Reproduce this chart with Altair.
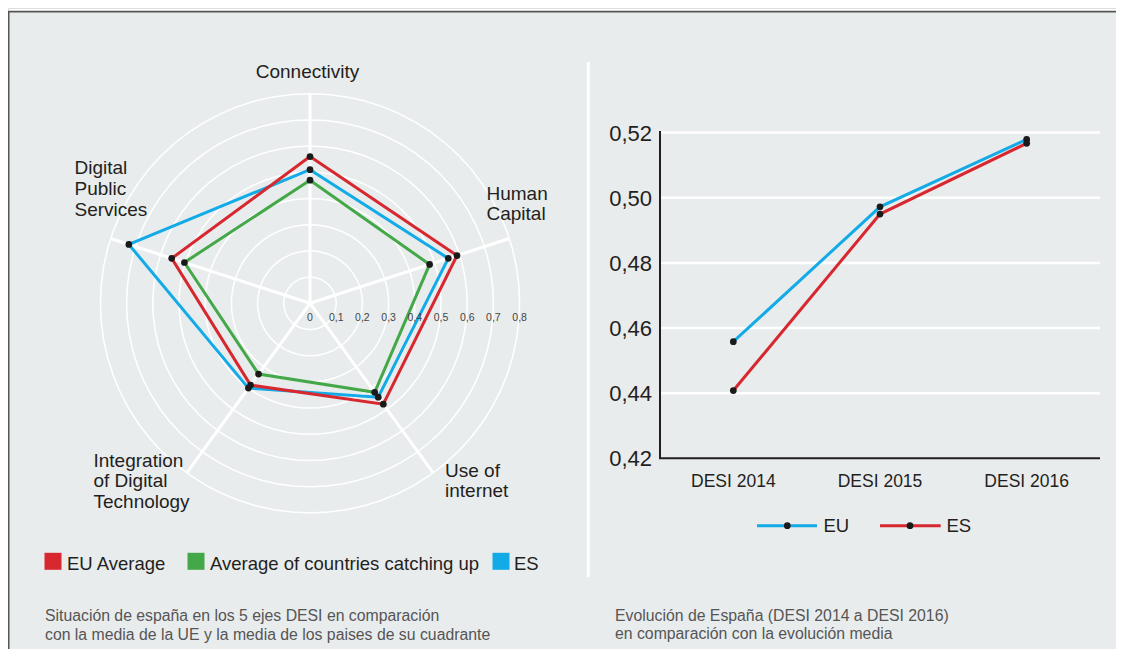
import altair as alt
import pandas as pd

# ---------------- data: radar (left) ----------------
axis_names = ["Connectivity", "Human Capital", "Use of internet",
              "Integration of Digital Technology", "Digital Public Services"]
axis_label_lines = [["Connectivity"], ["Human", "Capital"], ["Use of", "internet"],
                    ["Integration", "of Digital", "Technology"], ["Digital", "Public", "Services"]]
axis_angles = [0, 72, 144, 216, 288]
series_names = ["EU Average", "Average of countries catching up", "ES"]
eu_average = [0.56, 0.59, 0.476, 0.386, 0.555]
catching_up = [0.47, 0.48, 0.42, 0.334, 0.504]
es_radar = [0.51, 0.555, 0.443, 0.40, 0.727]
ring_levels = [0.1, 0.2, 0.3, 0.4, 0.5, 0.6, 0.7, 0.8]
ring_tick_values = [0, 0.1, 0.2, 0.3, 0.4, 0.5, 0.6, 0.7, 0.8]
ring_tick_labels = ["0", "0,1", "0,2", "0,3", "0,4", "0,5", "0,6", "0,7", "0,8"]
left_caption = ["Situación de españa en los 5 ejes DESI en comparación",
                "con la media de la UE y la media de los paises de su cuadrante"]

# ---------------- data: evolution (right) ----------------
years = ["DESI 2014", "DESI 2015", "DESI 2016"]
evo_series = ["EU", "ES"]
eu_evolution = [0.4558, 0.4972, 0.5179]
es_evolution = [0.4408, 0.4950, 0.5167]
y_ticks = [0.42, 0.44, 0.46, 0.48, 0.50, 0.52]
right_caption = ["Evolución de España (DESI 2014 a DESI 2016)",
                 "en comparación con la evolución media"]

# ---------------- styles ----------------
BG = "#E9ECED"
RED = "#D7282F"
GREEN = "#45A848"
BLUE = "#12ABE8"
TXT = "#231F20"
CAP = "#555555"
DOT = "#1A1A1A"
FONT = "Lato"

radar_colors = {"EU Average": RED, "Average of countries catching up": GREEN, "ES": BLUE}

# ---------------- geometry ----------------
W, H = 1108, 641
PX = 262.0             # pixels per radar unit
CX, CY = 302.0, 295.3  # radar centre
one = pd.DataFrame({"k": [0]})


def rs_x():
    return alt.Scale(domain=[-CX / PX, (W - CX) / PX], nice=False, zero=False)


def rs_y():
    return alt.Scale(domain=[-(H - CY) / PX, CY / PX], nice=False, zero=False)


def X(f):
    return alt.X(f"{f}:Q", scale=rs_x(), axis=None)


def Y(f):
    return alt.Y(f"{f}:Q", scale=rs_y(), axis=None)


# right-panel scales (plot region 652..1092 x 124.6..450.3)
def es_x():
    return alt.Scale(type="point", domain=years, padding=0.5, range=[652, 1092])


def es_y():
    return alt.Scale(domain=[min(y_ticks), max(y_ticks)], range=[450.3, 124.6], nice=False, zero=False)


def txt(t, x, y, size, color=TXT, align="left"):
    return alt.Chart(one).mark_text(text=t, align=align, baseline="alphabetic",
                                    fontSize=size, color=color).encode(
        x=alt.value(x), y=alt.value(y))


rows = []
for s, vals in zip(series_names, [eu_average, catching_up, es_radar]):
    for k in range(6):
        j = k % 5
        rows.append({"series": s, "axis": axis_names[j], "value": vals[j],
                     "angle": axis_angles[j], "order": k})
radar_df = pd.DataFrame(rows)

L = []
# background, border, separator
L.append(alt.Chart(one).mark_rect(color=BG).encode(
    x=alt.value(0), x2=alt.value(W), y=alt.value(3.7), y2=alt.value(H)))
L.append(alt.Chart(one).mark_rule(color="#555555", strokeWidth=1.8).encode(
    x=alt.value(0), x2=alt.value(W), y=alt.value(3.7)))
L.append(alt.Chart(one).mark_rule(color="#555555", strokeWidth=1.8).encode(
    x=alt.value(0.6), y=alt.value(3.7), y2=alt.value(H)))
L.append(alt.Chart(one).mark_rule(color="white", strokeWidth=3).encode(
    x=alt.value(580.3), y=alt.value(54), y2=alt.value(569)))

# radar rings and spokes
L.append(alt.Chart(pd.DataFrame({"level": ring_levels})).transform_calculate(
    a="sequence(0, 361, 5)").transform_flatten(["a"]).transform_calculate(
    rx="datum.level * sin(datum.a * PI / 180)",
    ry="datum.level * cos(datum.a * PI / 180)").mark_line(
    color="white", strokeWidth=1.5).encode(x=X("rx"), y=Y("ry"), detail="level:N", order="a:Q"))

outer = max(ring_levels)
L.append(alt.Chart(pd.DataFrame({"axis": axis_names, "angle": axis_angles})).transform_calculate(
    x0="0", y0="0",
    x1=f"{outer} * sin(datum.angle * PI / 180)",
    y1=f"{outer} * cos(datum.angle * PI / 180)").mark_rule(
    color="white", strokeWidth=3).encode(x=X("x0"), y=Y("y0"), x2="x1:Q", y2="y1:Q"))

# radar polygons and points
xy_calc = dict(px="datum.value * sin(datum.angle * PI / 180)",
               py="datum.value * cos(datum.angle * PI / 180)")
for s in ["Average of countries catching up", "ES", "EU Average"]:
    L.append(alt.Chart(radar_df[radar_df.series == s]).transform_calculate(**xy_calc)
             .mark_line(strokeWidth=3).encode(
        x=X("px"), y=Y("py"), order="order:Q",
        color=alt.Color("series:N", legend=None,
                        scale=alt.Scale(domain=series_names,
                                        range=[radar_colors[n] for n in series_names]))))
L.append(alt.Chart(radar_df[radar_df.order < 5]).transform_calculate(**xy_calc)
         .mark_circle(color=DOT, size=45, opacity=1).encode(x=X("px"), y=Y("py")))

# radial tick labels
L.append(alt.Chart(pd.DataFrame({"v": ring_tick_values, "label": ring_tick_labels}))
         .transform_calculate(z="0").mark_text(fontSize=10.5, color="#444444", dy=15)
         .encode(x=X("v"), y=Y("z"), text="label:N"))

# axis names
label_pos = [(299.5, [70.3], "center"), (478.5, [192.0, 212.0], "left"),
             (437.0, [468.5, 489.0], "left"), (85.5, [458.7, 479.2, 499.7], "left"),
             (66.5, [165.5, 186.8, 208.0], "left")]
for lines, (lx, lys, al) in zip(axis_label_lines, label_pos):
    for t, ly in zip(lines, lys):
        L.append(txt(t, lx, ly, 19, align=al))

# radar legend
for s, sx, tx in zip(series_names, [45.0, 188.0, 493.0], [59.0, 202.0, 506.0]):
    L.append(alt.Chart(one).mark_square(size=289, opacity=1, color=radar_colors[s]).encode(
        x=alt.value(sx), y=alt.value(553.3)))
    L.append(txt(s, tx, 562.0, 18.5))

for t, ly in zip(left_caption, [612.5, 631.5]):
    L.append(txt(t, 37, ly, 15.8, color=CAP))

# ---------------- right panel: evolution line chart ----------------
evo_df = pd.DataFrame({"year": years * 2, "region": ["EU"] * 3 + ["ES"] * 3,
                       "value": eu_evolution + es_evolution})
tick_df = pd.DataFrame({"v": y_ticks, "label": [f"{v:.2f}".replace(".", ",") for v in y_ticks]})

# gridlines
L.append(alt.Chart(tick_df[tick_df.v > min(y_ticks)]).mark_rule(color="white", strokeWidth=2.5)
         .encode(y=alt.Y("v:Q", scale=es_y(), axis=None), x=alt.value(652), x2=alt.value(1092)))
# y tick labels
L.append(alt.Chart(tick_df).mark_text(align="right", baseline="middle", fontSize=22, color=TXT, dy=1)
         .encode(y=alt.Y("v:Q", scale=es_y(), axis=None), x=alt.value(644), text="label:N"))
# x labels
L.append(alt.Chart(pd.DataFrame({"year": years})).mark_text(
    align="center", baseline="alphabetic", fontSize=17.5, color=TXT)
    .encode(x=alt.X("year:N", scale=es_x(), axis=None), y=alt.value(478.5), text="year:N"))
# axis lines
ax_df = pd.DataFrame({"lo": [min(y_ticks)], "hi": [max(y_ticks) + 0.0005]})
L.append(alt.Chart(ax_df).mark_rule(color=TXT, strokeWidth=2).encode(
    x=alt.value(652), y=alt.Y("lo:Q", scale=es_y(), axis=None), y2="hi:Q"))
L.append(alt.Chart(ax_df).mark_rule(color=TXT, strokeWidth=2).encode(
    x=alt.value(651), x2=alt.value(1092), y=alt.Y("lo:Q", scale=es_y(), axis=None)))
# lines and points
for name in evo_series:
    L.append(alt.Chart(evo_df[evo_df.region == name]).mark_line(strokeWidth=3).encode(
        x=alt.X("year:N", scale=es_x(), sort=years, axis=None),
        y=alt.Y("value:Q", scale=es_y(), axis=None),
        color=alt.Color("region:N", legend=None,
                        scale=alt.Scale(domain=evo_series, range=[BLUE, RED]))))
L.append(alt.Chart(evo_df).mark_circle(color=DOT, size=45, opacity=1).encode(
    x=alt.X("year:N", scale=es_x(), sort=years, axis=None),
    y=alt.Y("value:Q", scale=es_y(), axis=None)))

# right legend
for name, (lx1, lx2, dx, tx, col) in zip(
        evo_series, [(749.0, 809.0, 779.3, 815.5, BLUE), (872.0, 932.7, 902.0, 938.5, RED)]):
    L.append(alt.Chart(one).mark_rule(color=col, strokeWidth=3).encode(
        x=alt.value(lx1), x2=alt.value(lx2), y=alt.value(517.7)))
    L.append(alt.Chart(one).mark_circle(color=DOT, size=45, opacity=1).encode(
        x=alt.value(dx), y=alt.value(517.7)))
    L.append(txt(name, tx, 523.7, 18.5))

for t, ly in zip(right_caption, [612.5, 630.5]):
    L.append(txt(t, 607, ly, 15.8, color=CAP))

chart = alt.layer(*L).resolve_scale(
    x="independent", y="independent", color="independent"
).properties(
    width=W, height=H, padding=0, autosize=alt.AutoSizeParams(type="none")
).configure_view(stroke=None).configure_text(font=FONT).configure(background="white")

chart.save("out.html", embed_options={"renderer": "svg", "actions": False})
